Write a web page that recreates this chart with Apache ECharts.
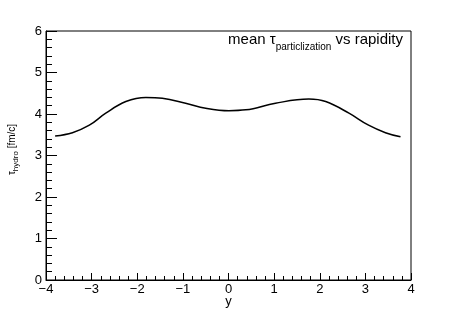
<!DOCTYPE html>
<html><head><meta charset="utf-8">
<script src="https://cdn.jsdelivr.net/npm/echarts@6/dist/echarts.min.js"></script>
<style>html,body{margin:0;padding:0;background:#fff}#c{width:457px;height:311px}</style>
</head><body><div id="c"></div>
<script>
var rapidity = [-3.80,-3.42,-3.05,-2.69,-2.25,-1.81,-1.45,-0.94,-0.50,0.01,0.38,1.03,1.76,2.13,2.64,3.07,3.44,3.77];
var tauMean  = [3.47,3.55,3.73,4.02,4.30,4.40,4.38,4.26,4.14,4.08,4.10,4.26,4.36,4.30,4.02,3.73,3.55,3.45];
var xTicks = [-4,-3,-2,-1,0,1,2,3,4];
var yTicks = [0,1,2,3,4,5,6];

var FONT = 'Liberation Sans';
var pts = rapidity.map(function(x,i){return [x,tauMean[i]];});
function fmt(v){return String(v).replace('-', '\u2212');}

var chart = echarts.init(document.getElementById('c'), null, {renderer:'canvas'});
chart.setOption({
  animation:false,
  backgroundColor:'#fff',
  grid:{left:46,right:46,top:31,bottom:31,containLabel:false,outerBoundsMode:'none',show:true,borderColor:'#000',borderWidth:1},
  title:{
    right:54, top:32, padding:0,
    text:'{a|mean \u03c4}{s|particlization}{a| vs rapidity}',
    textStyle:{fontWeight:'normal',rich:{
      a:{fontFamily:FONT,fontSize:15,fontWeight:'normal',color:'#000',verticalAlign:'top',lineHeight:20},
      s:{fontFamily:FONT,fontSize:10,fontWeight:'normal',color:'#000',verticalAlign:'bottom',lineHeight:10}
    }}
  },
  xAxis:{
    type:'value', min:xTicks[0], max:xTicks[xTicks.length-1], interval:1,
    name:'y', nameLocation:'middle', nameGap:15, nameMoveOverlap:false,
    nameTextStyle:{fontFamily:FONT,fontSize:13,color:'#000',verticalAlign:'top'},
    axisLine:{show:true,onZero:false,lineStyle:{color:'#000',width:1}},
    axisTick:{show:true,inside:true,length:7,lineStyle:{color:'#000'}},
    minorTick:{show:true,splitNumber:5,length:4,lineStyle:{color:'#000'}},
    splitLine:{show:false},
    axisLabel:{fontFamily:FONT,fontSize:13,color:'#000',margin:3,formatter:fmt}
  },
  yAxis:{
    type:'value', min:yTicks[0], max:yTicks[yTicks.length-1], interval:1,
    name:'{a|\u03c4}{s|hydro}{a| [fm/c]}', nameLocation:'middle', nameRotate:90, nameGap:26, nameMoveOverlap:false,
    nameTextStyle:{padding:[0,0,0,12],rich:{
      a:{fontFamily:FONT,fontSize:10,color:'#000',verticalAlign:'top',lineHeight:13},
      s:{fontFamily:FONT,fontSize:8,color:'#000',verticalAlign:'bottom',lineHeight:8}
    }},
    axisLine:{show:true,onZero:false,lineStyle:{color:'#000',width:1}},
    axisTick:{show:true,inside:true,length:11,lineStyle:{color:'#000'}},
    minorTick:{show:true,splitNumber:5,length:6,lineStyle:{color:'#000'}},
    splitLine:{show:false},
    axisLabel:{fontFamily:FONT,fontSize:13,color:'#000',margin:4,formatter:fmt}
  },
  series:[{
    type:'line', data:pts, smooth:0.4, showSymbol:false,
    lineStyle:{color:'#000',width:1.5}
  }]
});
</script></body></html>
